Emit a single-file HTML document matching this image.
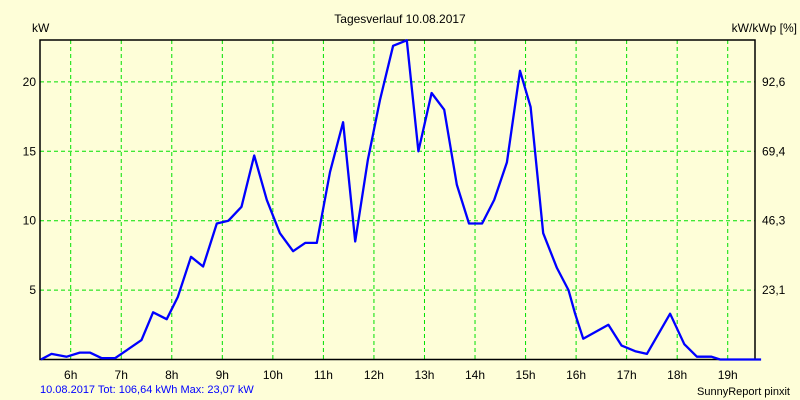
<!DOCTYPE html>
<html><head><meta charset="utf-8"><style>
body{margin:0;background:#fefed8;}
svg{display:block;font-family:"Liberation Sans",sans-serif;}
</style></head><body>
<svg id="chart" width="800" height="400">
<rect x="0" y="0" width="800" height="400" fill="#fefed8"/>
<text x="400" y="23" text-anchor="middle" font-size="12">Tagesverlauf 10.08.2017</text>
<text x="32" y="32" font-size="12">kW</text>
<text x="797" y="32" text-anchor="end" font-size="12">kW/kWp [%]</text>
<g id="grid"></g>
<g id="axes"></g>
<g id="series"></g>
<text x="40" y="393" font-size="11" fill="#0000ff">10.08.2017 Tot: 106,64 kWh Max: 23,07 kW</text>
<text x="790" y="395" text-anchor="end" font-size="11">SunnyReport pinxit</text>
</svg>
<script>
const hourTicks=[6,7,8,9,10,11,12,13,14,15,16,17,18,19];
const kwTicks=[5,10,15,20];
const pctTicks=["23,1","46,3","69,4","92,6"];
const times=[5.41,5.62,5.92,6.18,6.38,6.61,6.88,7.40,7.63,7.90,8.12,8.38,8.62,8.89,9.12,9.38,9.63,9.88,10.14,10.40,10.64,10.87,11.13,11.39,11.63,11.88,12.12,12.38,12.65,12.88,13.14,13.39,13.64,13.88,14.14,14.38,14.63,14.89,15.10,15.35,15.62,15.85,15.98,16.14,16.64,16.90,17.17,17.40,17.86,18.14,18.39,18.68,18.85,19.66];
const power=[0,0.4,0.2,0.5,0.5,0.1,0.1,1.4,3.4,2.9,4.5,7.4,6.7,9.8,10.0,11.0,14.7,11.5,9.1,7.8,8.4,8.4,13.5,17.1,8.5,14.4,18.7,22.6,23.0,15.0,19.2,18.0,12.6,9.8,9.8,11.5,14.2,20.8,18.2,9.1,6.6,5.0,3.3,1.5,2.5,1.0,0.6,0.4,3.3,1.1,0.2,0.2,0,0];
const L=40,R=755,T=40,B=359.5;
const xs=h=>70.7+(h-6)*50.54;
const ys=v=>B-v*13.88;
const NS="http://www.w3.org/2000/svg";
function mk(tag,attrs,parent){const e=document.createElementNS(NS,tag);for(const k in attrs)e.setAttribute(k,attrs[k]);parent.appendChild(e);return e;}
const grid=document.getElementById('grid'),axes=document.getElementById('axes'),series=document.getElementById('series');
hourTicks.forEach(h=>{
 const l=mk('line',{x1:xs(h),x2:xs(h),y1:T,y2:B,stroke:'#00e000','stroke-dasharray':'4,3','stroke-width':1},grid);
 
 
 const t=mk('text',{x:xs(h),y:379,'text-anchor':'middle','font-size':12},axes);
 t.textContent=h+'h';
 
 
});
kwTicks.forEach((v,i)=>{
 const l=mk('line',{x1:L,x2:R,y1:ys(v),y2:ys(v),stroke:'#00e000','stroke-dasharray':'4,3','stroke-width':1},grid);
 
 
 const t=mk('text',{x:36,y:ys(v)+4,'text-anchor':'end','font-size':12},axes);
 t.textContent=v;
 
 
 const t2=mk('text',{x:762,y:ys(v)+4,'font-size':12},axes);
 t2.textContent=pctTicks[i];
 
 
});
const frame=mk('rect',{x:L,y:T,width:R-L,height:B-T,fill:'none',stroke:'#000','stroke-width':1.5},axes);


const pl=mk('polyline',{points:times.map((t,i)=>xs(t).toFixed(1)+','+ys(power[i]).toFixed(1)).join(' '),fill:'none',stroke:'#0000ff','stroke-width':2.3,'stroke-linejoin':'round'},series);


</script>
</body></html>
